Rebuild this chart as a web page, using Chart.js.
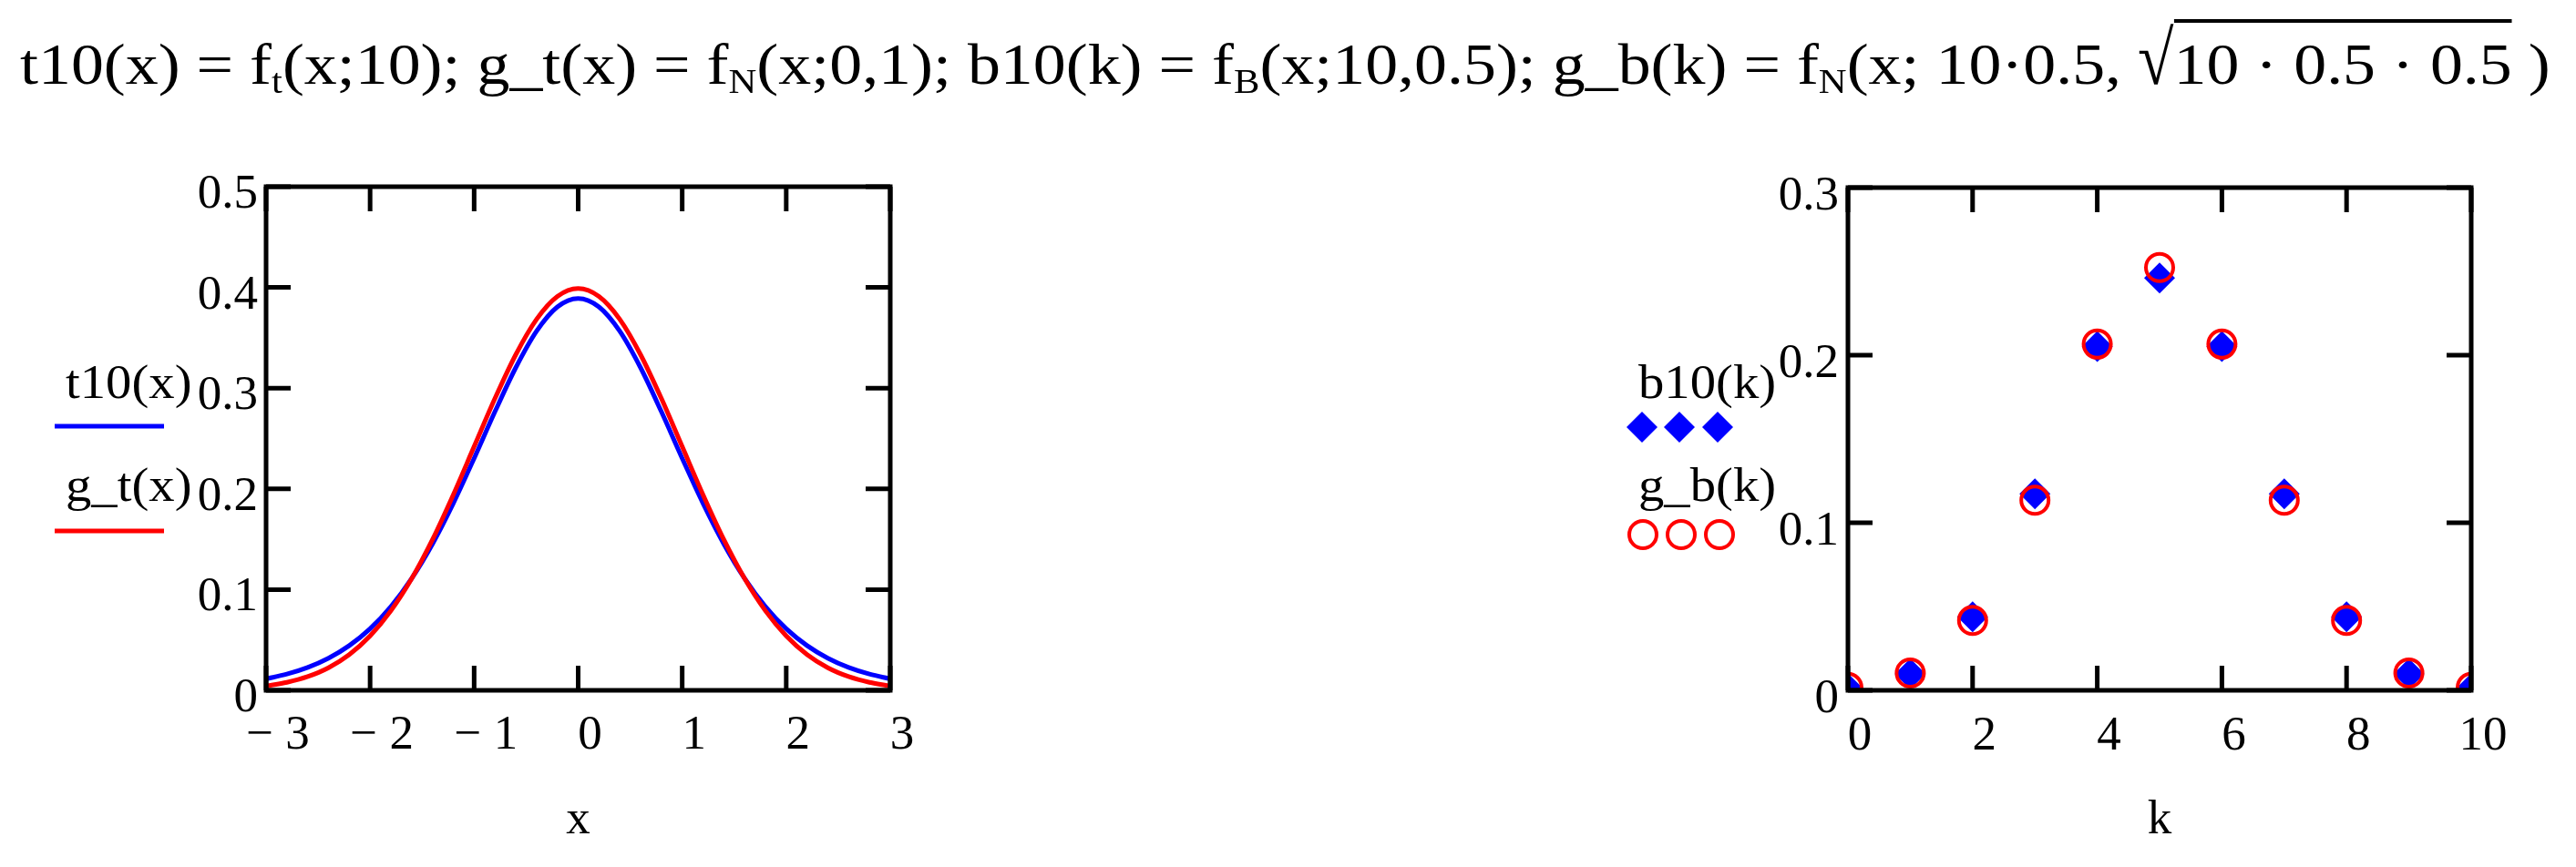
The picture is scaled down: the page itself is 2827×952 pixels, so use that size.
<!DOCTYPE html>
<html>
<head>
<meta charset="utf-8">
<script src="https://cdn.jsdelivr.net/npm/chart.js@4.4.0/dist/chart.umd.min.js"></script>
<style>
    body { margin: 0; background: #fff; width: 2827px; height: 952px; overflow: hidden; position: relative; }
    canvas { position: absolute; top: 0; }
    #titulo { position: absolute; left: 22px; top: 31px; font-family: 'Liberation Serif', serif; font-size: 64px; line-height: 80px; white-space: nowrap; color: #000;
        transform: scaleX(1.123); transform-origin: 0 50%; }
    #titulo sub { font-size: 38px; vertical-align: -10px; line-height: 0; }
    #titulo .sinal { display: inline-block; transform: scaleY(1.3); transform-origin: 50% 75%; }
    #titulo .raiz { border-top: 4px solid #000; padding-top: 10px; }
</style>
</head>
<body>
<canvas id="graficoT" width="1100" height="952" style="left:0px"></canvas>
<canvas id="graficoB" width="1127" height="952" style="left:1700px"></canvas>
<div id="titulo">t10(x) = f<sub>t</sub>(x;10); g_t(x) = f<sub>N</sub>(x;0,1); b10(k) = f<sub>B</sub>(x;10,0.5); g_b(k) = f<sub>N</sub>(x; 10·0.5, <span class="sinal">√</span><span class="raiz">10 · 0.5 · 0.5</span> )</div>

<script>
// Dados do grafico da esquerda (t de Student x normal)
const xValores = [-3, -2.8, -2.6, -2.4, -2.2, -2, -1.8, -1.6, -1.4, -1.2, -1, -0.8, -0.6, -0.4, -0.2, 0,
    0.2, 0.4, 0.6, 0.8, 1, 1.2, 1.4, 1.6, 1.8, 2, 2.2, 2.4, 2.6, 2.8, 3];
const t10Valores = [0.0114, 0.0161, 0.0227, 0.0319, 0.0444, 0.0611, 0.0831, 0.1111, 0.1454, 0.1857, 0.2304, 0.2766, 0.3203, 0.3566, 0.3807, 0.3891,
    0.3807, 0.3566, 0.3203, 0.2766, 0.2304, 0.1857, 0.1454, 0.1111, 0.0831, 0.0611, 0.0444, 0.0319, 0.0227, 0.0161, 0.0114];
const gtValores = [0.0044, 0.0079, 0.0136, 0.0224, 0.0355, 0.0540, 0.0790, 0.1109, 0.1497, 0.1942, 0.2420, 0.2897, 0.3332, 0.3683, 0.3910, 0.3989,
    0.3910, 0.3683, 0.3332, 0.2897, 0.2420, 0.1942, 0.1497, 0.1109, 0.0790, 0.0540, 0.0355, 0.0224, 0.0136, 0.0079, 0.0044];
const xTicksT = ['\u2212 3', '\u2212 2', '\u2212 1', '0', '1', '2', '3'];
const yTicksT = ['0', '0.1', '0.2', '0.3', '0.4', '0.5'];

// Dados do grafico da direita (binomial x normal)
const kValores = [0, 1, 2, 3, 4, 5, 6, 7, 8, 9, 10];
const b10Valores = [0.0010, 0.0098, 0.0439, 0.1172, 0.2051, 0.2461, 0.2051, 0.1172, 0.0439, 0.0098, 0.0010];
const gbValores = [0.0017, 0.0103, 0.0417, 0.1134, 0.2066, 0.2523, 0.2066, 0.1134, 0.0417, 0.0103, 0.0017];
const xTicksB = ['0', '2', '4', '6', '8', '10'];
const yTicksB = ['0', '0.1', '0.2', '0.3'];

const fonte = 'Liberation Serif';

// moldura preta com marcas para dentro (estilo Mathcad)
const moldura = {
    id: 'moldura',
    afterDatasetsDraw(chart) {
        const ctx = chart.ctx;
        const ca = chart.chartArea;
        const tam = 27;
        ctx.save();
        ctx.strokeStyle = '#000';
        ctx.lineWidth = 5;
        ctx.beginPath();
        chart.scales.x.ticks.forEach(t => {
            const px = chart.scales.x.getPixelForValue(t.value);
            ctx.moveTo(px, ca.bottom); ctx.lineTo(px, ca.bottom - tam);
            ctx.moveTo(px, ca.top); ctx.lineTo(px, ca.top + tam);
        });
        chart.scales.y.ticks.forEach(t => {
            const py = chart.scales.y.getPixelForValue(t.value);
            ctx.moveTo(ca.left, py); ctx.lineTo(ca.left + tam, py);
            ctx.moveTo(ca.right, py); ctx.lineTo(ca.right - tam, py);
        });
        ctx.stroke();
        ctx.strokeRect(ca.left, ca.top, ca.right - ca.left, ca.bottom - ca.top);
        ctx.restore();
    }
};

// legenda ao lado do eixo y
const legendaLateral = {
    id: 'legendaLateral',
    afterDraw(chart, args, opts) {
        const ctx = chart.ctx;
        ctx.save();
        opts.itens.forEach((item, i) => {
            const ds = chart.data.datasets[i];
            ctx.save();
            ctx.font = '52px "' + fonte + '"';
            ctx.fillStyle = '#000';
            ctx.textBaseline = 'alphabetic';
            ctx.translate(item.x, item.y);
            ctx.scale(1.09, 1);
            ctx.fillText(ds.label, 0, 0);
            ctx.restore();
            if (item.tipo === 'linha') {
                ctx.strokeStyle = ds.borderColor;
                ctx.lineWidth = 5;
                ctx.beginPath();
                ctx.moveTo(item.x0, item.yLinha);
                ctx.lineTo(item.x1, item.yLinha);
                ctx.stroke();
            } else if (item.tipo === 'losango') {
                ctx.fillStyle = ds.pointBackgroundColor;
                item.xs.forEach(cx => {
                    const r = ds.pointRadius;
                    ctx.beginPath();
                    ctx.moveTo(cx - r, item.yMarca);
                    ctx.lineTo(cx, item.yMarca - r);
                    ctx.lineTo(cx + r, item.yMarca);
                    ctx.lineTo(cx, item.yMarca + r);
                    ctx.closePath();
                    ctx.fill();
                });
            } else if (item.tipo === 'circulo') {
                ctx.strokeStyle = ds.pointBorderColor;
                ctx.lineWidth = ds.pointBorderWidth;
                item.xs.forEach(cx => {
                    ctx.beginPath();
                    ctx.arc(cx, item.yMarca, ds.pointRadius, 0, Math.PI * 2);
                    ctx.stroke();
                });
            }
        });
        ctx.restore();
    }
};

function fonteTick() {
    return { family: fonte, size: 53 };
}

const graficoT = new Chart(document.querySelector('#graficoT'), {
    type: 'line',
    data: {
        datasets: [{
            label: 't10(x)',
            data: xValores.map((x, i) => ({ x: x, y: t10Valores[i] })),
            borderColor: '#0000ff',
            borderWidth: 5,
            pointRadius: 0,
            cubicInterpolationMode: 'monotone',
            fill: false,
            clip: 0,
            order: 1
        }, {
            label: 'g_t(x)',
            data: xValores.map((x, i) => ({ x: x, y: gtValores[i] })),
            borderColor: '#ff0000',
            borderWidth: 5,
            pointRadius: 0,
            cubicInterpolationMode: 'monotone',
            fill: false,
            clip: 0,
            order: 0
        }]
    },
    options: {
        responsive: false,
        animation: false,
        events: [],
        layout: { padding: { top: 205, right: 123, left: 0, bottom: 0 } },
        plugins: {
            legend: { display: false },
            tooltip: { enabled: false },
            legendaLateral: {
                itens: [
                    { tipo: 'linha', x: 72, y: 437, x0: 60, x1: 180, yLinha: 468 },
                    { tipo: 'linha', x: 72, y: 550, x0: 60, x1: 180, yLinha: 583 }
                ]
            }
        },
        scales: {
            x: {
                type: 'linear', min: -3, max: 3,
                grid: { display: false, drawTicks: false },
                border: { display: false },
                ticks: { stepSize: 1, padding: 18, labelOffset: 13, color: '#000', font: fonteTick(), maxRotation: 0,
                    callback: (v, i) => xTicksT[i] },
                title: { display: true, text: 'x', color: '#000', font: { family: fonte, size: 53 }, padding: { top: 0, bottom: 19 } },
                afterFit: (s) => { s.height = 194; }
            },
            y: {
                type: 'linear', min: 0, max: 0.5,
                grid: { display: false, drawTicks: false },
                border: { display: false },
                ticks: { stepSize: 0.1, padding: 9, labelOffset: 9, color: '#000', font: fonteTick(),
                    callback: (v, i) => yTicksT[i] },
                afterFit: (s) => { s.width = 292; }
            }
        }
    },
    plugins: [moldura, legendaLateral]
});

const graficoB = new Chart(document.querySelector('#graficoB'), {
    type: 'scatter',
    data: {
        datasets: [{
            label: 'b10(k)',
            data: kValores.map((k, i) => ({ x: k, y: b10Valores[i] })),
            pointStyle: 'rectRot',
            pointRadius: 17,
            pointBackgroundColor: '#0000ff',
            pointBorderWidth: 0,
            clip: 0,
            order: 1
        }, {
            label: 'g_b(k)',
            data: kValores.map((k, i) => ({ x: k, y: gbValores[i] })),
            pointStyle: 'circle',
            pointRadius: 15,
            pointBackgroundColor: 'rgba(0,0,0,0)',
            pointBorderColor: '#ff0000',
            pointBorderWidth: 4,
            clip: 0,
            order: 0
        }]
    },
    options: {
        responsive: false,
        animation: false,
        events: [],
        layout: { padding: { top: 206, right: 115, left: 0, bottom: 0 } },
        plugins: {
            legend: { display: false },
            tooltip: { enabled: false },
            legendaLateral: {
                itens: [
                    { tipo: 'losango', x: 98, y: 437, xs: [102, 143, 185], yMarca: 469 },
                    { tipo: 'circulo', x: 98, y: 550, xs: [103, 145, 187], yMarca: 587 }
                ]
            }
        },
        scales: {
            x: {
                type: 'linear', min: 0, max: 10,
                grid: { display: false, drawTicks: false },
                border: { display: false },
                ticks: { stepSize: 2, padding: 19, labelOffset: 13, color: '#000', font: fonteTick(), maxRotation: 0,
                    callback: (v, i) => xTicksB[i] },
                title: { display: true, text: 'k', color: '#000', font: { family: fonte, size: 53 }, padding: { top: 0, bottom: 19 } },
                afterFit: (s) => { s.height = 194; }
            },
            y: {
                type: 'linear', min: 0, max: 0.3,
                grid: { display: false, drawTicks: false },
                border: { display: false },
                ticks: { stepSize: 0.1, padding: 10, labelOffset: 10, color: '#000', font: fonteTick(),
                    callback: (v, i) => yTicksB[i] },
                afterFit: (s) => { s.width = 328; }
            }
        }
    },
    plugins: [moldura, legendaLateral]
});
</script>
</body>
</html>
